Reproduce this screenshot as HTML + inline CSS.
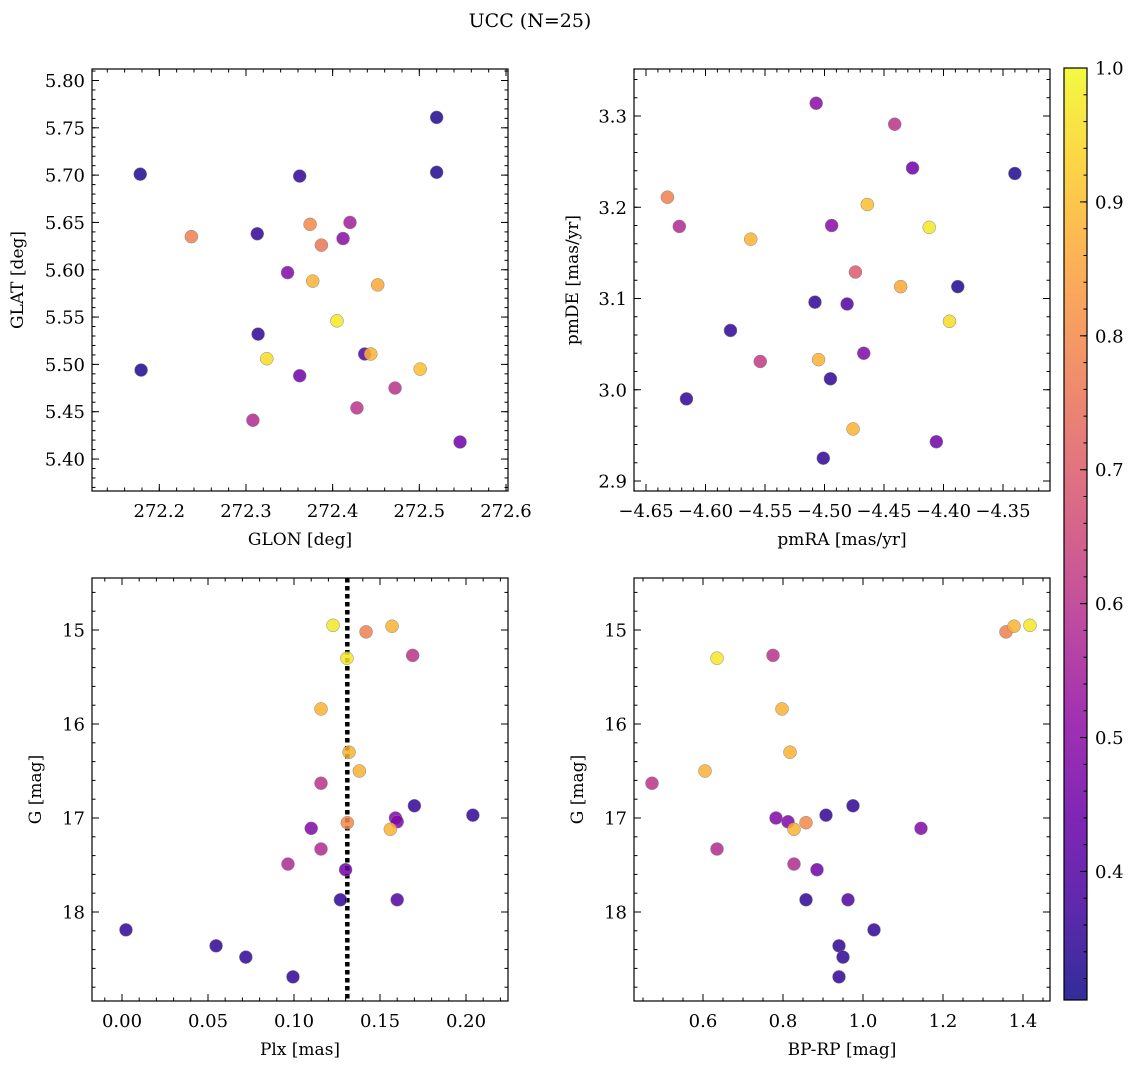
<!DOCTYPE html>
<html><head><meta charset="utf-8"><style>
html,body{margin:0;padding:0;background:#fff;}
svg text{font-family:"DejaVu Serif","Liberation Serif",serif;fill:#000;}
</style></head><body>
<svg id="fig" width="1136" height="1068" viewBox="0 0 1136 1068" xmlns="http://www.w3.org/2000/svg">
<defs>
<linearGradient id="plasma" x1="0" y1="1" x2="0" y2="0"></linearGradient>
</defs>
<text x="530" y="27" font-size="19" text-anchor="middle">UCC (N=25)</text>
</svg>
<script>
// ---- data ----
const glon = [272.178,272.179,272.237,272.313,272.314,272.324,272.348,272.362,272.362,272.374,272.377,272.387,272.405,272.412,272.420,272.428,272.437,272.444,272.452,272.472,272.520,272.520,272.501,272.547,272.308];
const glat = [5.701,5.494,5.635,5.638,5.532,5.506,5.597,5.699,5.488,5.648,5.588,5.626,5.546,5.633,5.650,5.454,5.511,5.511,5.584,5.475,5.761,5.703,5.495,5.418,5.441];
const probTL = [0.33,0.33,0.78,0.35,0.35,0.95,0.48,0.35,0.45,0.80,0.88,0.76,0.97,0.50,0.55,0.60,0.40,0.88,0.86,0.60,0.33,0.33,0.90,0.45,0.58];

const pmra = [-4.632,-4.622,-4.616,-4.579,-4.562,-4.554,-4.507,-4.508,-4.505,-4.501,-4.495,-4.494,-4.481,-4.476,-4.474,-4.467,-4.464,-4.441,-4.436,-4.426,-4.412,-4.406,-4.395,-4.388,-4.340];
const pmde = [3.211,3.179,2.990,3.065,3.165,3.031,3.314,3.096,3.033,2.925,3.012,3.180,3.094,2.957,3.129,3.040,3.203,3.291,3.113,3.243,3.178,2.943,3.075,3.113,3.237];
const probTR = [0.78,0.58,0.35,0.35,0.88,0.62,0.50,0.35,0.88,0.35,0.35,0.50,0.40,0.88,0.70,0.48,0.90,0.60,0.86,0.45,0.97,0.45,0.95,0.33,0.33];

const plx = [0.1227,0.1419,0.157,0.1308,0.169,0.1157,0.132,0.138,0.1157,0.170,0.204,0.159,0.160,0.131,0.156,0.110,0.1157,0.0965,0.130,0.127,0.160,0.0023,0.0547,0.072,0.0994];
const gmagL = [14.95,15.02,14.96,15.30,15.27,15.84,16.30,16.50,16.63,16.87,16.97,17.00,17.04,17.05,17.12,17.11,17.33,17.49,17.55,17.87,17.87,18.19,18.36,18.48,18.69];
const probBL = [0.97,0.78,0.88,0.97,0.60,0.88,0.88,0.88,0.60,0.35,0.35,0.48,0.48,0.80,0.88,0.48,0.58,0.58,0.45,0.35,0.40,0.35,0.35,0.35,0.35];
const plxMedian = [0.131];

const bprp = [1.3575,1.3775,1.4175,0.635,0.775,0.7975,0.8175,0.605,0.4725,0.975,0.9075,0.7825,0.8125,0.8575,0.8275,1.145,0.635,0.8275,0.885,0.8575,0.9625,1.0275,0.94,0.95,0.94];
const gmagR = [15.02,14.96,14.95,15.30,15.27,15.84,16.30,16.50,16.63,16.87,16.97,17.00,17.04,17.05,17.12,17.11,17.33,17.49,17.55,17.87,17.87,18.19,18.36,18.48,18.69];
const probBR = [0.78,0.88,0.97,0.97,0.60,0.88,0.88,0.88,0.60,0.35,0.35,0.48,0.48,0.80,0.88,0.48,0.58,0.58,0.45,0.35,0.40,0.35,0.35,0.35,0.35];

const ticksTLx = ["272.2","272.3","272.4","272.5","272.6"];
const ticksTLy = ["5.40","5.45","5.50","5.55","5.60","5.65","5.70","5.75","5.80"];
const ticksTRx = ["−4.65","−4.60","−4.55","−4.50","−4.45","−4.40","−4.35"];
const ticksTRy = ["2.9","3.0","3.1","3.2","3.3"];
const ticksBLx = ["0.00","0.05","0.10","0.15","0.20"];
const ticksBy = ["15","16","17","18"];
const ticksBRx = ["0.6","0.8","1.0","1.2","1.4"];
const ticksCbar = ["0.4","0.5","0.6","0.7","0.8","0.9","1.0"];
const cRange = [0.304, 1.0];

// ---- helpers ----
const NS = "http://www.w3.org/2000/svg";
const svg = document.getElementById('fig');
const FS = 18;
function mk(tag, attrs, parent){const e=document.createElementNS(NS,tag);for(const k in attrs)e.setAttribute(k,attrs[k]);(parent||svg).appendChild(e);return e;}
const plasmaStops=[[0,'#0d0887'],[0.1,'#41049d'],[0.2,'#6a00a8'],[0.3,'#8f0da4'],[0.4,'#b12a90'],[0.5,'#cc4778'],[0.6,'#e16462'],[0.7,'#f2844b'],[0.8,'#fca636'],[0.9,'#fcce25'],[1,'#f0f921']];
function hex(h){return [parseInt(h.substr(1,2),16),parseInt(h.substr(3,2),16),parseInt(h.substr(5,2),16)];}
function plasma(t){t=Math.max(0,Math.min(1,t));for(let i=0;i<plasmaStops.length-1;i++){const[a,ca]=plasmaStops[i],[b,cb]=plasmaStops[i+1];if(t<=b){const f=(t-a)/(b-a),A=hex(ca),B=hex(cb);return 'rgb('+A.map((v,j)=>Math.round(v+(B[j]-v)*f)).join(',')+')';}}return '#f0f921';}
function cmap(c){return plasma((c-cRange[0])/(cRange[1]-cRange[0]));}

function panel(o){
  const g=mk('g',{});
  
  
  const X=v=>o.x0+(v-o.dx[0])/(o.dx[1]-o.dx[0])*(o.x1-o.x0);
  const Y=v=>o.y1-(v-o.dy[0])/(o.dy[1]-o.dy[0])*(o.y1-o.y0);
  o.X=X;o.Y=Y;
  const tg=mk('g',{stroke:'#000','stroke-width':1},g);
  
  
  function ticksX(start,step,end,len){for(let v=start;v<=end+1e-9;v+=step){const px=X(v);if(px<o.x0-0.5||px>o.x1+0.5)continue;mk('line',{x1:px,x2:px,y1:o.y1,y2:o.y1-len},tg);mk('line',{x1:px,x2:px,y1:o.y0,y2:o.y0+len},tg);}}
  function ticksY(start,step,end,len){for(let v=start;v<=end+1e-9;v+=step){const py=Y(v);if(py<o.y0-0.5||py>o.y1+0.5)continue;mk('line',{y1:py,y2:py,x1:o.x0,x2:o.x0+len},tg);mk('line',{y1:py,y2:py,x1:o.x1,x2:o.x1-len},tg);}}
  ticksX(o.mxs,o.mxstep,o.dx[1],3.5);ticksY(o.mys,o.mystep,o.dy[1],3.5);
  o.xt.forEach(s=>{const v=parseFloat(s.replace('−','-'));const px=X(v);if(px<o.x0-0.5||px>o.x1+0.5)return;mk('line',{x1:px,x2:px,y1:o.y1,y2:o.y1-7},tg);mk('line',{x1:px,x2:px,y1:o.y0,y2:o.y0+7},tg);
    const t=mk('text',{x:px,y:o.y1+26,'font-size':FS,'text-anchor':'middle'},g);t.textContent=s;
    
    });
  o.yt.forEach(s=>{const v=parseFloat(s);const py=Y(v);if(py<o.y0-0.5||py>o.y1+0.5)return;mk('line',{y1:py,y2:py,x1:o.x0,x2:o.x0+7},tg);mk('line',{y1:py,y2:py,x1:o.x1,x2:o.x1-7},tg);
    const t=mk('text',{x:o.x0-7,y:py+6.5,'font-size':FS,'text-anchor':'end'},g);t.textContent=s;
    
    });
  if(o.vline!==undefined){const l=mk('line',{x1:X(o.vline),x2:X(o.vline),y1:o.y0,y2:o.y1,stroke:'#000','stroke-width':4.5,'stroke-dasharray':'4.5,3.5'},g);
    
    }
  o.xs.forEach((v,i)=>{const c=mk('circle',{cx:X(v),cy:Y(o.ys[i]),r:6.5,fill:cmap(o.cs[i]),'fill-opacity':0.85,stroke:'#888','stroke-width':0.5},g);
    
    });
  const fr=mk('rect',{x:o.x0,y:o.y0,width:o.x1-o.x0,height:o.y1-o.y0,fill:'none',stroke:'#000','stroke-width':1.2},g);
  
  
  const xl=mk('text',{x:(o.x0+o.x1)/2,y:o.y1+54,'font-size':17,'text-anchor':'middle'},g);xl.textContent=o.xlabel;
  
  
  const yl=mk('text',{x:0,y:0,'font-size':17,'text-anchor':'middle',transform:'translate('+o.ylx+','+((o.y0+o.y1)/2)+') rotate(-90)'},g);yl.textContent=o.ylabel;
  
  
  return o;
}

panel({name:'glon-glat-panel',x0:92,x1:508,y0:69,y1:491,
  dx:[272.2-67.3/866.7,272.6+2/866.7],dy:[5.40-32/947,5.80+11.5/947],
  mxs:272.12,mxstep:0.02,mys:5.37,mystep:0.01,xt:ticksTLx,yt:ticksTLy,
  xs:glon,ys:glat,cs:probTL,xlabel:'GLON [deg]',ylabel:'GLAT [deg]',ylx:23});
panel({name:'pm-panel',x0:634,x1:1050,y0:69,y1:491,
  dx:[-4.65-12/1190,-4.35+47/1190],dy:[2.9-10/912.5,3.3+47/912.5],
  mxs:-4.66,mxstep:0.01,mys:2.88,mystep:0.02,xt:ticksTRx,yt:ticksTRy,
  xs:pmra,ys:pmde,cs:probTR,xlabel:'pmRA [mas/yr]',ylabel:'pmDE [mas/yr]',ylx:578});
const BL={name:'plx-g-panel',x0:92,x1:508,y0:578,y1:1001,
  dx:[-30/1720,386/1720],dy:[0,0],
  mxs:-0.01,mxstep:0.01,mys:14.4,mystep:0.2,xt:ticksBLx,yt:ticksBy,
  xs:plx,ys:gmagL,cs:probBL,vline:plxMedian[0],xlabel:'Plx [mas]',ylabel:'G [mag]',ylx:41};
function invPanel(o,ys){
  const y15=630, s=94;
  o.dy=[-(15+(o.y1-y15)/s), -(15-(y15-o.y0)/s)];
  o.ys=ys.map(v=>-v);
  const orig=o.yt;
  const p=panel(Object.assign({},o,{yt:[],mys:-19.4}));
  orig.forEach(s=>{const v=-parseFloat(s);const py=p.Y(v);
    const ln1=mk('line',{x1:o.x0,x2:o.x0+7,y1:py,y2:py,stroke:'#000'});
    const ln2=mk('line',{x1:o.x1,x2:o.x1-7,y1:py,y2:py,stroke:'#000'});
    const t=mk('text',{x:o.x0-7,y:py+6.5,'font-size':FS,'text-anchor':'end'});t.textContent=s;
    
    });
}
invPanel(BL,gmagL);
invPanel({name:'cmd-panel',x0:634,x1:1050,y0:578,y1:1001,
  dx:[0.6-69/400,1.4+27/400],dy:[0,0],
  mxs:0.45,mxstep:0.05,mys:-19.4,mystep:0.2,xt:ticksBRx,yt:ticksBy,
  xs:bprp,cs:probBR,xlabel:'BP-RP [mag]',ylabel:'G [mag]',ylx:583},gmagR);

const grad=document.getElementById('plasma');
for(let i=0;i<=20;i++){const t=i/20;mk('stop',{offset:t,'stop-color':plasma(t),'stop-opacity':0.85},grad);}
const cb={x0:1064,x1:1087,y0:68,y1:1000};
const cbg=mk('g',{});


mk('rect',{x:cb.x0,y:cb.y0,width:cb.x1-cb.x0,height:cb.y1-cb.y0,fill:'url(#plasma)',stroke:'#000','stroke-width':1.2},cbg);
const CY=v=>cb.y1-(v-cRange[0])/(cRange[1]-cRange[0])*(cb.y1-cb.y0);
for(let v=0.32;v<=1.0001;v+=0.02){const py=CY(v);mk('line',{x1:cb.x1,x2:cb.x1-3.5,y1:py,y2:py,stroke:'#000'},cbg);}
ticksCbar.forEach(s=>{const py=CY(parseFloat(s));mk('line',{x1:cb.x1,x2:cb.x1-7,y1:py,y2:py,stroke:'#000'},cbg);
  const t=mk('text',{x:cb.x1+8,y:py+6.5,'font-size':FS},cbg);t.textContent=s;
  
  });
</script>
</body></html>
